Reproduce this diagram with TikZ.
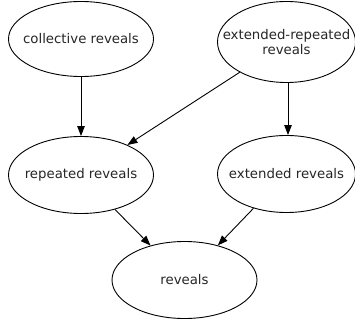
\documentclass[tikz,border=0pt]{standalone}
\usepackage{fontspec}
\setmainfont{DejaVu Sans}
\usetikzlibrary{shapes.geometric,arrows.meta}
\begin{document}
\begin{tikzpicture}[x=1pt,y=-1pt,
  state/.style={ellipse,draw=black,line width=0.9pt,inner sep=0pt,
    minimum width=145pt,minimum height=77pt,
    label={[font=\fontsize{13.3}{15}\selectfont,text=black!85,align=center]center:#1}},
  edge/.style={draw=black,line width=0.9pt,-{Triangle[length=10pt,width=7.5pt]}}]
  \useasboundingbox (0,0) rectangle (355,323);
  % top rank
  \node[state={collective reveals},minimum height=75pt] (collective) at (81,39) {};
  \node[state={extended-repeated\\reveals},minimum width=138pt,minimum height=81pt] (extrep) at (286.5,42) {};
  % middle rank
  \node[state={repeated reveals}] (repeated) at (81,175) {};
  \node[state={extended reveals},minimum width=138pt] (extended) at (286.5,174) {};
  % bottom rank
  \node[state={reveals}] (reveals) at (184.5,280) {};
  % dependencies
  \draw[edge] (collective) -- (repeated);
  \draw[edge] (extrep) -- (repeated);
  \draw[edge] (extrep.south -| 288,0) -- (extended.north -| 288,0);
  \draw[edge] (repeated) -- (reveals);
  \draw[edge] (extended) -- (reveals);
\end{tikzpicture}
\end{document}
